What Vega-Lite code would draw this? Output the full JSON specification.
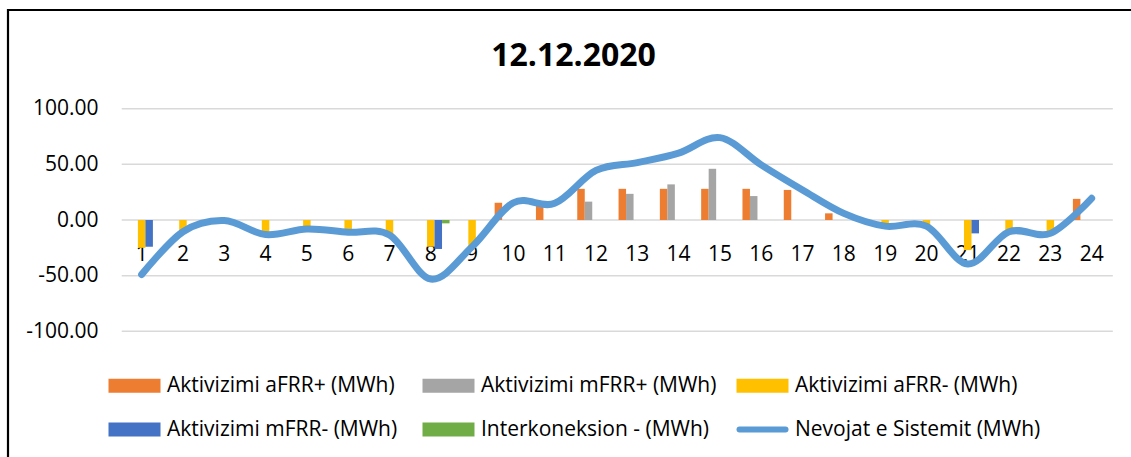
{
  "$schema": "https://vega.github.io/schema/vega-lite/v6.json",
  "width": 1145,
  "height": 460,
  "autosize": {"type": "none"},
  "padding": {"left": 8, "top": 10, "right": -22, "bottom": -13},
  "background": "white",
  "title": {"text": "12.12.2020", "fontSize": 32, "fontWeight": "bold", "font": "Open Sans", "color": "#000000", "anchor": "middle", "frame": "group", "offset": -88, "baseline": "alphabetic", "dx": -7},
  "datasets": {
    "grid": [{"v": -100}, {"v": -50}, {"v": 0}, {"v": 50}, {"v": 100}],
    "bars": [
      {"hour": 1, "series": "Aktivizimi aFRR- (MWh)", "value": -25},
      {"hour": 1, "series": "Aktivizimi mFRR- (MWh)", "value": -24},
      {"hour": 2, "series": "Aktivizimi aFRR- (MWh)", "value": -10.5},
      {"hour": 4, "series": "Aktivizimi aFRR- (MWh)", "value": -13},
      {"hour": 5, "series": "Aktivizimi aFRR- (MWh)", "value": -8},
      {"hour": 6, "series": "Aktivizimi aFRR- (MWh)", "value": -11},
      {"hour": 7, "series": "Aktivizimi aFRR- (MWh)", "value": -13.5},
      {"hour": 8, "series": "Aktivizimi aFRR- (MWh)", "value": -24},
      {"hour": 8, "series": "Aktivizimi mFRR- (MWh)", "value": -26},
      {"hour": 8, "series": "Interkoneksion - (MWh)", "value": -3},
      {"hour": 9, "series": "Aktivizimi aFRR- (MWh)", "value": -24},
      {"hour": 10, "series": "Aktivizimi aFRR+ (MWh)", "value": 15.5},
      {"hour": 11, "series": "Aktivizimi aFRR+ (MWh)", "value": 15},
      {"hour": 12, "series": "Aktivizimi aFRR+ (MWh)", "value": 28},
      {"hour": 12, "series": "Aktivizimi mFRR+ (MWh)", "value": 16.5},
      {"hour": 13, "series": "Aktivizimi aFRR+ (MWh)", "value": 28},
      {"hour": 13, "series": "Aktivizimi mFRR+ (MWh)", "value": 23.5},
      {"hour": 14, "series": "Aktivizimi aFRR+ (MWh)", "value": 28},
      {"hour": 14, "series": "Aktivizimi mFRR+ (MWh)", "value": 32},
      {"hour": 15, "series": "Aktivizimi aFRR+ (MWh)", "value": 28},
      {"hour": 15, "series": "Aktivizimi mFRR+ (MWh)", "value": 46},
      {"hour": 16, "series": "Aktivizimi aFRR+ (MWh)", "value": 28},
      {"hour": 16, "series": "Aktivizimi mFRR+ (MWh)", "value": 21.5},
      {"hour": 17, "series": "Aktivizimi aFRR+ (MWh)", "value": 27},
      {"hour": 18, "series": "Aktivizimi aFRR+ (MWh)", "value": 6},
      {"hour": 19, "series": "Aktivizimi aFRR- (MWh)", "value": -5.5},
      {"hour": 20, "series": "Aktivizimi aFRR- (MWh)", "value": -5.5},
      {"hour": 21, "series": "Aktivizimi aFRR- (MWh)", "value": -27},
      {"hour": 21, "series": "Aktivizimi mFRR- (MWh)", "value": -12},
      {"hour": 22, "series": "Aktivizimi aFRR- (MWh)", "value": -10.5},
      {"hour": 23, "series": "Aktivizimi aFRR- (MWh)", "value": -12},
      {"hour": 24, "series": "Aktivizimi aFRR+ (MWh)", "value": 19}
    ],
    "need": [
      {"hour": 1, "value": -49}, {"hour": 2, "value": -10.5}, {"hour": 3, "value": -0.5},
      {"hour": 4, "value": -13}, {"hour": 5, "value": -8}, {"hour": 6, "value": -11},
      {"hour": 7, "value": -13.5}, {"hour": 8, "value": -53}, {"hour": 9, "value": -24},
      {"hour": 10, "value": 15.5}, {"hour": 11, "value": 15}, {"hour": 12, "value": 44.5},
      {"hour": 13, "value": 51.5}, {"hour": 14, "value": 60}, {"hour": 15, "value": 74},
      {"hour": 16, "value": 49.5}, {"hour": 17, "value": 27}, {"hour": 18, "value": 6},
      {"hour": 19, "value": -5.5}, {"hour": 20, "value": -5.5}, {"hour": 21, "value": -39.5},
      {"hour": 22, "value": -10.5}, {"hour": 23, "value": -12}, {"hour": 24, "value": 19.5}
    ]
  },
  "layer": [
    {
      "data": {"name": "grid"},
      "mark": {"type": "rule", "color": "#D9D9D9", "strokeWidth": 1.5},
      "encoding": {
        "y": {
          "field": "v", "type": "quantitative",
          "scale": {"domain": [-224.5, 188.6], "nice": false, "zero": false},
          "axis": {"orient": "left", "offset": -113, "values": [-100, -50, 0, 50, 100], "labelExpr": "replace(format(datum.value, '.2f'), '\u2212', '-')", "grid": false, "domain": false, "ticks": false, "tickSize": 0, "labelPadding": 23, "labelFontSize": 21, "labelFont": "Open Sans", "labelColor": "#000000", "title": null}
        },
        "x": {
          "datum": 1, "type": "ordinal", "bandPosition": -0.032,
          "axis": {"orient": "bottom", "offset": -250, "domain": false, "ticks": false, "tickSize": 0, "labelPadding": 40, "labelBaseline": "alphabetic", "labelFontSize": 21, "labelFont": "Open Sans", "labelColor": "#000000", "labelAngle": 0, "title": null, "grid": false}
        },
        "x2": {"datum": 24, "bandPosition": 1.064}
      }
    },
    {
      "data": {"name": "bars"},
      "mark": {"type": "bar"},
      "encoding": {
        "x": {
          "field": "hour", "type": "ordinal",
          "scale": {"domain": [1,2,3,4,5,6,7,8,9,10,11,12,13,14,15,16,17,18,19,20,21,22,23,24], "range": [113, 1104.3], "paddingInner": 0.092, "paddingOuter": 0.046},
          "axis": {"orient": "bottom", "offset": -250, "domain": false, "ticks": false, "tickSize": 0, "labelPadding": 40, "labelBaseline": "alphabetic", "labelFontSize": 21, "labelFont": "Open Sans", "labelColor": "#000000", "labelAngle": 0, "title": null, "grid": false}
        },
        "xOffset": {"field": "series", "scale": {"domain": ["Aktivizimi aFRR+ (MWh)", "Aktivizimi mFRR+ (MWh)", "Aktivizimi aFRR- (MWh)", "Aktivizimi mFRR- (MWh)", "Interkoneksion - (MWh)"], "paddingInner": 0, "paddingOuter": 0}},
        "y": {
          "field": "value", "type": "quantitative", "stack": null,
          "axis": {"orient": "left", "offset": -113, "values": [-100, -50, 0, 50, 100], "labelExpr": "replace(format(datum.value, '.2f'), '\u2212', '-')", "grid": false, "domain": false, "ticks": false, "tickSize": 0, "labelPadding": 23, "labelFontSize": 21, "labelFont": "Open Sans", "labelColor": "#000000", "title": null}
        },
        "color": {
          "field": "series", "type": "nominal",
          "scale": {
            "domain": ["Aktivizimi aFRR+ (MWh)", "Aktivizimi mFRR+ (MWh)", "Aktivizimi aFRR- (MWh)", "Aktivizimi mFRR- (MWh)", "Interkoneksion - (MWh)", "Nevojat e Sistemit (MWh)"],
            "range": ["#ED7D31", "#A5A5A5", "#FFC000", "#4472C4", "#70AD47", "#5B9BD5"]
          },
          "legend": {
            "orient": "none", "legendX": 116, "legendY": 364, "direction": "horizontal", "columns": 3, "gridAlign": "all",
            "title": null, "labelFontSize": 21, "labelFont": "Open Sans", "labelColor": "#000000", "labelLimit": 400,
            "symbolSize": 400, "labelOffset": 22, "columnPadding": 0, "rowPadding": 20, "padding": 0,
            "symbolType": "M-2.6,-0.7H2.6V0.7H-2.6Z",
            "encode": {
              "symbols": {
                "update": {
                  "shape": {"signal": "datum.value === 'Nevojat e Sistemit (MWh)' ? 'M-2.3,0H2.3' : 'M-2.6,-0.7H2.6V0.7H-2.6Z'"},
                  "fill": {"signal": "datum.value === 'Nevojat e Sistemit (MWh)' ? 'transparent' : scale('color', datum.value)"},
                  "stroke": {"signal": "scale('color', datum.value)"},
                  "strokeWidth": {"signal": "datum.value === 'Nevojat e Sistemit (MWh)' ? 6 : 0"},
                  "strokeCap": {"value": "round"},
                  "opacity": {"value": 1}
                }
              }
            }
          }
        }
      }
    },
    {
      "data": {"name": "need"},
      "mark": {"type": "line", "interpolate": "cardinal", "strokeWidth": 7, "strokeCap": "round", "strokeJoin": "round"},
      "encoding": {
        "x": {
          "field": "hour", "type": "ordinal",
          "axis": {"orient": "bottom", "offset": -250, "domain": false, "ticks": false, "tickSize": 0, "labelPadding": 40, "labelBaseline": "alphabetic", "labelFontSize": 21, "labelFont": "Open Sans", "labelColor": "#000000", "labelAngle": 0, "title": null, "grid": false}
        },
        "y": {
          "field": "value", "type": "quantitative",
          "axis": {"orient": "left", "offset": -113, "values": [-100, -50, 0, 50, 100], "labelExpr": "replace(format(datum.value, '.2f'), '\u2212', '-')", "grid": false, "domain": false, "ticks": false, "tickSize": 0, "labelPadding": 23, "labelFontSize": 21, "labelFont": "Open Sans", "labelColor": "#000000", "title": null}
        },
        "color": {"datum": "Nevojat e Sistemit (MWh)"}
      }
    }
  ],
  "config": {
    "view": {"stroke": "#000000", "strokeWidth": 2.2},
    "font": "Open Sans"
  }
}
